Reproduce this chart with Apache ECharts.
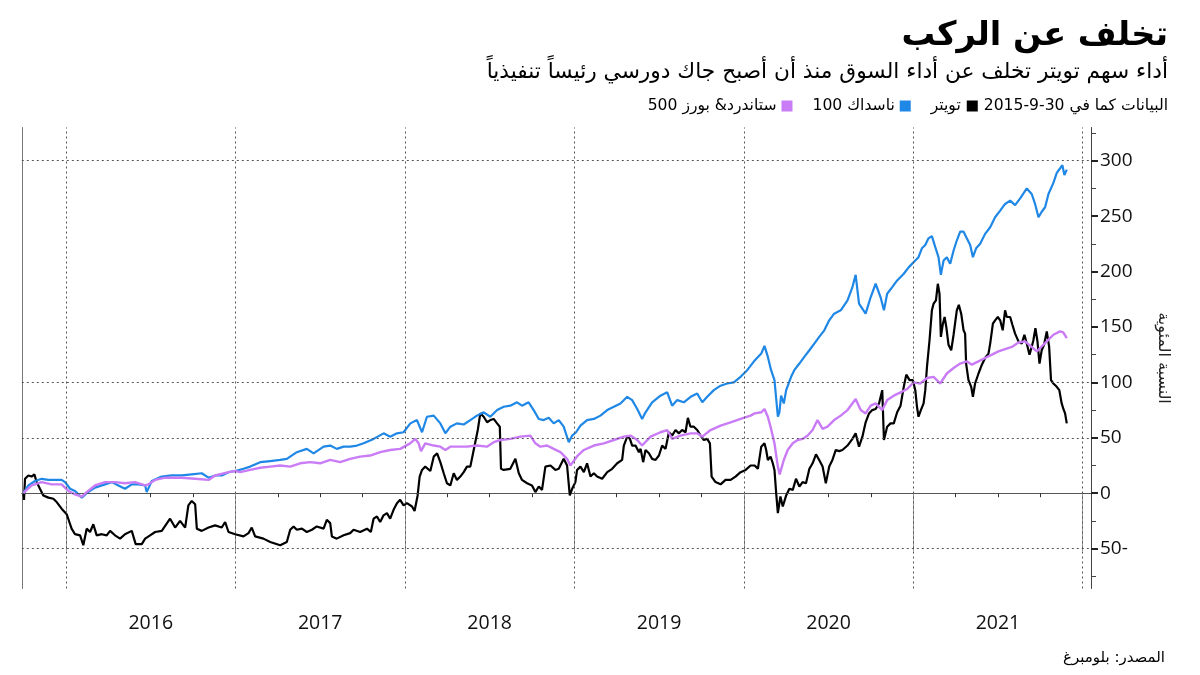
<!DOCTYPE html>
<html><head><meta charset="utf-8">
<script src="https://cdn.jsdelivr.net/npm/echarts@6/dist/echarts.min.js"></script>
<style>html,body{margin:0;padding:0;background:#fff}#c{width:1200px;height:675px}</style>
</head><body><div id="c"></div>
<script>
// ---- data (time in decimal years, values = % change since 30-9-2015) ----
const twitterTime = [2015.748,2015.752,2015.758,2015.778,2015.797,2015.813,2015.827,2015.846,2015.866,2015.896,2015.925,2015.945,2015.974,2016.004,2016.033,2016.053,2016.083,2016.102,2016.122,2016.142,2016.161,2016.181,2016.211,2016.240,2016.260,2016.289,2016.319,2016.348,2016.388,2016.411,2016.447,2016.467,2016.496,2016.526,2016.565,2016.614,2016.644,2016.673,2016.703,2016.722,2016.742,2016.762,2016.772,2016.801,2016.841,2016.880,2016.919,2016.939,2016.959,2016.998,2017.008,2017.047,2017.077,2017.096,2017.116,2017.165,2017.205,2017.264,2017.303,2017.323,2017.343,2017.362,2017.392,2017.421,2017.451,2017.480,2017.520,2017.539,2017.559,2017.569,2017.598,2017.638,2017.677,2017.697,2017.736,2017.776,2017.799,2017.815,2017.835,2017.854,2017.874,2017.894,2017.913,2017.933,2017.953,2017.972,2017.992,2018.012,2018.042,2018.057,2018.075,2018.087,2018.101,2018.120,2018.150,2018.170,2018.190,2018.209,2018.229,2018.248,2018.268,2018.288,2018.307,2018.327,2018.347,2018.366,2018.386,2018.406,2018.430,2018.445,2018.465,2018.485,2018.504,2018.524,2018.544,2018.560,2018.567,2018.583,2018.622,2018.652,2018.672,2018.691,2018.721,2018.750,2018.770,2018.790,2018.809,2018.829,2018.859,2018.888,2018.908,2018.937,2018.957,2018.973,2018.987,2019.006,2019.016,2019.036,2019.056,2019.075,2019.095,2019.115,2019.134,2019.164,2019.194,2019.223,2019.253,2019.282,2019.292,2019.312,2019.328,2019.341,2019.361,2019.381,2019.391,2019.406,2019.420,2019.440,2019.459,2019.479,2019.499,2019.518,2019.538,2019.558,2019.577,2019.597,2019.617,2019.636,2019.656,2019.670,2019.685,2019.705,2019.725,2019.745,2019.764,2019.784,2019.800,2019.810,2019.833,2019.863,2019.892,2019.922,2019.951,2019.981,2020.011,2020.040,2020.064,2020.083,2020.103,2020.122,2020.132,2020.142,2020.158,2020.171,2020.181,2020.191,2020.201,2020.216,2020.230,2020.250,2020.269,2020.289,2020.308,2020.328,2020.347,2020.367,2020.387,2020.406,2020.426,2020.445,2020.465,2020.484,2020.504,2020.523,2020.543,2020.563,2020.582,2020.612,2020.641,2020.660,2020.680,2020.700,2020.719,2020.739,2020.758,2020.778,2020.798,2020.817,2020.827,2020.846,2020.866,2020.885,2020.905,2020.925,2020.944,2020.959,2020.978,2020.998,2021.012,2021.022,2021.031,2021.045,2021.061,2021.071,2021.081,2021.096,2021.110,2021.120,2021.134,2021.145,2021.155,2021.163,2021.175,2021.185,2021.195,2021.208,2021.224,2021.238,2021.257,2021.269,2021.283,2021.297,2021.306,2021.312,2021.326,2021.342,2021.352,2021.365,2021.385,2021.405,2021.424,2021.444,2021.454,2021.470,2021.483,2021.499,2021.513,2021.528,2021.542,2021.552,2021.572,2021.585,2021.601,2021.621,2021.640,2021.656,2021.670,2021.686,2021.699,2021.709,2021.721,2021.733,2021.745,2021.758,2021.772,2021.788,2021.802,2021.813,2021.827,2021.847,2021.862,2021.876,2021.886,2021.896,2021.906];
const twitterPct = [0,-6,13,16,15,17,10,4,-2,-4,-5,-8,-14,-19,-32,-37,-38,-47,-32,-35,-28,-38,-37,-38,-34,-38,-41,-37,-34,-46,-46,-41,-38,-35,-34,-23,-31,-25,-31,-11,-7,-10,-32,-34,-31,-29,-31,-26,-35,-37,-36,-39,-36,-31,-39,-41,-44,-47,-44,-33,-30,-33,-32,-35,-33,-30,-32,-24,-27,-39,-41,-38,-36,-33,-35,-32,-35,-23,-21,-26,-20,-18,-23,-15,-9,-6,-11,-9,-12,-16,-2,15,21,24,20,33,36,28,18,9,7,18,12,15,19,24,24,39,57,72,69,64,66,67,63,60,22,21,22,31,18,12,9,7,1,6,3,24,25,21,22,31,25,-2,4,10,21,24,19,27,15,18,15,13,19,22,27,30,43,51,49,43,43,37,40,28,39,36,31,30,34,43,40,55,52,57,54,57,55,68,60,60,57,52,48,49,45,15,10,8,12,12,15,19,21,25,25,22,42,45,39,30,33,27,21,0,-18,-3,-12,-2,4,3,13,6,10,9,22,27,35,30,24,9,24,30,39,38,39,43,49,54,42,51,64,72,75,76,81,93,48,60,63,63,73,79,96,107,102,102,93,78,69,75,81,93,114,138,165,171,174,189,180,141,153,159,150,134,129,143,165,170,162,147,144,117,102,96,87,99,108,116,122,126,135,153,156,159,156,147,165,159,159,152,144,137,135,143,135,125,132,138,149,137,117,129,134,146,132,102,99,96,93,81,76,72,63];

const nasdaqTime = [2015.748,2015.778,2015.817,2015.856,2015.896,2015.935,2015.974,2015.994,2016.024,2016.053,2016.093,2016.122,2016.171,2016.230,2016.270,2016.309,2016.348,2016.388,2016.427,2016.467,2016.476,2016.506,2016.565,2016.624,2016.683,2016.742,2016.801,2016.841,2016.880,2016.919,2016.959,2016.998,2017.047,2017.087,2017.146,2017.205,2017.264,2017.303,2017.362,2017.421,2017.461,2017.520,2017.559,2017.598,2017.638,2017.677,2017.717,2017.756,2017.815,2017.874,2017.913,2017.953,2017.992,2018.032,2018.071,2018.101,2018.130,2018.170,2018.209,2018.239,2018.268,2018.307,2018.347,2018.386,2018.425,2018.465,2018.504,2018.544,2018.583,2018.622,2018.662,2018.691,2018.730,2018.760,2018.790,2018.819,2018.849,2018.878,2018.908,2018.937,2018.967,2018.987,2019.010,2019.036,2019.075,2019.115,2019.154,2019.194,2019.233,2019.272,2019.312,2019.341,2019.371,2019.400,2019.420,2019.459,2019.508,2019.548,2019.577,2019.607,2019.646,2019.686,2019.725,2019.755,2019.784,2019.823,2019.863,2019.902,2019.941,2019.981,2020.020,2020.060,2020.103,2020.122,2020.142,2020.161,2020.181,2020.201,2020.210,2020.220,2020.236,2020.250,2020.279,2020.298,2020.328,2020.357,2020.387,2020.416,2020.445,2020.475,2020.504,2020.533,2020.572,2020.612,2020.641,2020.660,2020.680,2020.719,2020.749,2020.778,2020.807,2020.827,2020.846,2020.876,2020.905,2020.944,2020.974,2021.012,2021.031,2021.051,2021.071,2021.090,2021.110,2021.130,2021.149,2021.163,2021.179,2021.198,2021.218,2021.238,2021.257,2021.277,2021.297,2021.316,2021.336,2021.352,2021.371,2021.395,2021.424,2021.454,2021.483,2021.513,2021.542,2021.572,2021.601,2021.631,2021.670,2021.699,2021.719,2021.739,2021.758,2021.778,2021.798,2021.827,2021.847,2021.866,2021.880,2021.892,2021.906];
const nasdaqPct = [0,7,11,13,12,12,12,10,4,2,-4,0,5,8,10,7,4,8,8,7,1,11,15,16,16,17,18,14,16,16,19,20,22,24,28,29,30,31,37,40,36,42,43,40,42,42,43,45,49,54,51,54,55,63,66,55,69,70,63,54,60,63,62,66,70,73,69,75,78,79,82,79,82,75,67,66,68,63,66,60,46,52,55,61,66,67,70,75,78,81,87,84,76,67,73,82,88,91,79,84,82,87,90,82,87,93,97,99,100,105,111,119,126,133,123,111,102,69,73,88,81,93,105,111,117,123,129,135,141,147,156,162,165,174,186,197,171,162,177,189,177,165,180,186,192,198,204,210,213,221,224,230,232,222,213,197,210,213,207,219,228,236,236,230,224,213,221,225,234,240,249,255,261,264,260,266,275,270,261,249,254,258,270,280,289,293,296,287,292];

const spxTime = [2015.748,2015.797,2015.856,2015.915,2015.974,2016.014,2016.053,2016.093,2016.122,2016.171,2016.230,2016.289,2016.348,2016.407,2016.467,2016.486,2016.526,2016.585,2016.683,2016.762,2016.841,2016.880,2016.959,2016.998,2017.028,2017.087,2017.146,2017.205,2017.264,2017.323,2017.382,2017.441,2017.500,2017.559,2017.618,2017.677,2017.736,2017.795,2017.854,2017.913,2017.972,2018.031,2018.061,2018.081,2018.095,2018.120,2018.170,2018.209,2018.239,2018.268,2018.317,2018.366,2018.425,2018.484,2018.524,2018.563,2018.622,2018.681,2018.740,2018.770,2018.799,2018.839,2018.878,2018.918,2018.957,2018.976,2018.996,2019.020,2019.056,2019.115,2019.174,2019.233,2019.292,2019.331,2019.371,2019.400,2019.450,2019.508,2019.548,2019.577,2019.626,2019.686,2019.725,2019.755,2019.804,2019.863,2019.922,2019.981,2020.040,2020.064,2020.103,2020.122,2020.142,2020.161,2020.181,2020.201,2020.212,2020.236,2020.259,2020.289,2020.318,2020.347,2020.377,2020.406,2020.435,2020.465,2020.494,2020.533,2020.572,2020.612,2020.660,2020.690,2020.719,2020.749,2020.778,2020.817,2020.846,2020.885,2020.925,2020.964,2021.002,2021.041,2021.081,2021.120,2021.159,2021.198,2021.238,2021.277,2021.316,2021.346,2021.385,2021.424,2021.464,2021.503,2021.542,2021.582,2021.621,2021.660,2021.699,2021.729,2021.749,2021.788,2021.827,2021.866,2021.886,2021.906];
const spxPct = [0,7,10,8,8,2,-1,-3,1,7,10,10,9,10,7,8,12,14,14,13,12,16,19,20,19,21,23,24,25,24,27,28,27,30,28,31,33,34,37,39,40,45,49,45,38,45,43,42,39,42,42,42,43,42,46,48,49,51,52,45,42,43,40,37,31,25,29,34,39,43,45,48,51,52,48,43,51,55,57,49,52,54,54,51,57,61,64,67,70,72,73,76,69,58,45,24,17,30,39,45,48,49,52,57,66,58,60,66,70,75,85,75,72,79,81,75,84,88,91,94,100,99,104,105,99,108,113,117,119,116,119,122,125,128,130,132,136,137,132,128,131,137,143,146,145,140];

// ---- axis ticks / labels ----
const yearTicks = [2016,2017,2018,2019,2020,2021,2022];
const yearLabels = ['2016','2017','2018','2019','2020','2021'];
const quarterTicks = [2015.75,2016.25,2016.5,2016.75,2017.25,2017.5,2017.75,2018.25,2018.5,2018.75,2019.25,2019.5,2019.75,2020.25,2020.5,2020.75,2021.25,2021.5,2021.75];
const yMajorTicks = [-50,0,50,100,150,200,250,300];
const yMinorTicks = [-75,-25,25,75,125,175,225,275,325];
const hGridValues = [300,100,50,0,-50];

// ---- text ----
const titleText = 'تخلف عن الركب';
const subtitleText = 'أداء سهم تويتر تخلف عن أداء السوق منذ أن أصبح جاك دورسي رئيساً تنفيذياً';
const asOfText = 'البيانات كما في 30-9-2015';
const seriesNames = ['تويتر', 'ناسداك 100', 'ستاندرد& بورز 500'];
const seriesColors = ['#000000', '#1f87e6', '#c97cf5'];
const yName = 'النسبة المئوية';
const sourceText = 'المصدر: بلومبرغ';

const zip = (t, v) => t.map((x, i) => [x, v[i]]);
const XMIN = 2015.739, XMAX = 2022.049, YMIN = -86, YMAX = 330;
const AR = "'DejaVu Sans', sans-serif";
const NUM = "'Open Sans', 'DejaVu Sans', sans-serif";

const chart = echarts.init(document.getElementById('c'), null, {renderer: 'canvas'});

const legendText =
  '{t|' + seriesNames[2] + '}{g5| }{sqP| }{g20| }' +
  '{t|' + seriesNames[1] + '}{g5| }{sqB| }{g20| }' +
  '{t|' + seriesNames[0] + '}{g6| }{sqK| }{g6| }' +
  '{t|' + asOfText + '}';

const option = {
  animation: false,
  backgroundColor: '#ffffff',
  title: [
    {text: titleText, right: 27, top: 14,
     textStyle: {fontFamily: AR, fontSize: 33.5, fontWeight: 'bold', color: '#000'}},
    {text: subtitleText, right: 27, top: 56,
     textStyle: {fontFamily: AR, fontSize: 21.7, fontWeight: 'normal', color: '#000'}},
    {text: legendText, right: 27, top: 93,
     textStyle: {fontFamily: AR, fontSize: 15.6, fontWeight: 'normal', color: '#000',
       rich: {
         t: {fontFamily: AR, fontSize: 15.6, color: '#000'},
         g5: {width: 5}, g6: {width: 6}, g20: {width: 20},
         sqK: {width: 11, height: 11, backgroundColor: seriesColors[0]},
         sqB: {width: 11, height: 11, backgroundColor: seriesColors[1]},
         sqP: {width: 11, height: 11, backgroundColor: seriesColors[2]}
       }}},
    {text: sourceText, right: 30, top: 646,
     textStyle: {fontFamily: AR, fontSize: 15, fontWeight: 'normal', color: '#000'}}
  ],
  grid: {left: 21.8, right: 109, top: 127.5, bottom: 86.5, containLabel: false, outerBoundsMode: 'none'},
  xAxis: [
    {type: 'value', min: XMIN, max: XMAX, position: 'bottom',
     axisLine: {show: true, lineStyle: {color: '#555', width: 1}},
     axisTick: {show: true, customValues: yearTicks, length: 58, lineStyle: {color: '#999', width: 1}},
     axisLabel: {show: true, customValues: yearLabels.map(y => Number(y) + 0.5),
       formatter: v => String(Math.floor(v)), margin: 25, fontSize: 19.5, color: '#111', fontFamily: NUM},
     splitLine: {show: false}},
    {type: 'value', min: XMIN, max: XMAX, position: 'bottom',
     axisLine: {show: false},
     axisTick: {show: true, customValues: quarterTicks, length: 4, lineStyle: {color: '#333', width: 1}},
     axisLabel: {show: false}, splitLine: {show: false}}
  ],
  yAxis: [
    {type: 'value', min: YMIN, max: YMAX, position: 'right',
     axisLine: {show: true, lineStyle: {color: '#444', width: 1}},
     axisTick: {show: true, customValues: yMajorTicks, length: 7, lineStyle: {color: '#222', width: 2}},
     axisLabel: {show: true, customValues: yMajorTicks, margin: 9, fontSize: 19, color: '#111', fontFamily: NUM,
       formatter: v => (v < 0 ? (-v) + '-' : String(v))},
     splitLine: {show: false},
     name: yName, nameLocation: 'middle', nameRotate: -90, nameGap: 64,
     nameTextStyle: {fontFamily: AR, fontSize: 16, color: '#222'}},
    {type: 'value', min: YMIN, max: YMAX, position: 'right',
     axisLine: {show: false},
     axisTick: {show: true, customValues: yMinorTicks, length: 5, lineStyle: {color: '#444', width: 1}},
     axisLabel: {show: false}, splitLine: {show: false}},
    {type: 'value', min: YMIN, max: YMAX, position: 'left',
     axisLine: {show: true, lineStyle: {color: '#777', width: 1}},
     axisTick: {show: false}, axisLabel: {show: false}, splitLine: {show: false}}
  ],
  series: [
    {type: 'line', name: 'grid', data: [], z: 0, silent: true,
     markLine: {silent: true, symbol: 'none', animation: false,
       label: {show: false},
       lineStyle: {type: [2, 3], color: '#555', width: 1},
       data: yearTicks.map(y => ({xAxis: y})).concat(hGridValues.map(v => ({yAxis: v})))}},
    {type: 'line', name: seriesNames[0], data: zip(twitterTime, twitterPct), z: 3,
     showSymbol: false, symbol: 'none', lineStyle: {color: seriesColors[0], width: 2.2}, itemStyle: {color: seriesColors[0]}},
    {type: 'line', name: seriesNames[1], data: zip(nasdaqTime, nasdaqPct), z: 3,
     showSymbol: false, symbol: 'none', lineStyle: {color: seriesColors[1], width: 2.2}, itemStyle: {color: seriesColors[1]}},
    {type: 'line', name: seriesNames[2], data: zip(spxTime, spxPct), z: 3,
     showSymbol: false, symbol: 'none', lineStyle: {color: seriesColors[2], width: 2.4}, itemStyle: {color: seriesColors[2]}}
  ]
};
chart.setOption(option);
</script>
</body></html>
